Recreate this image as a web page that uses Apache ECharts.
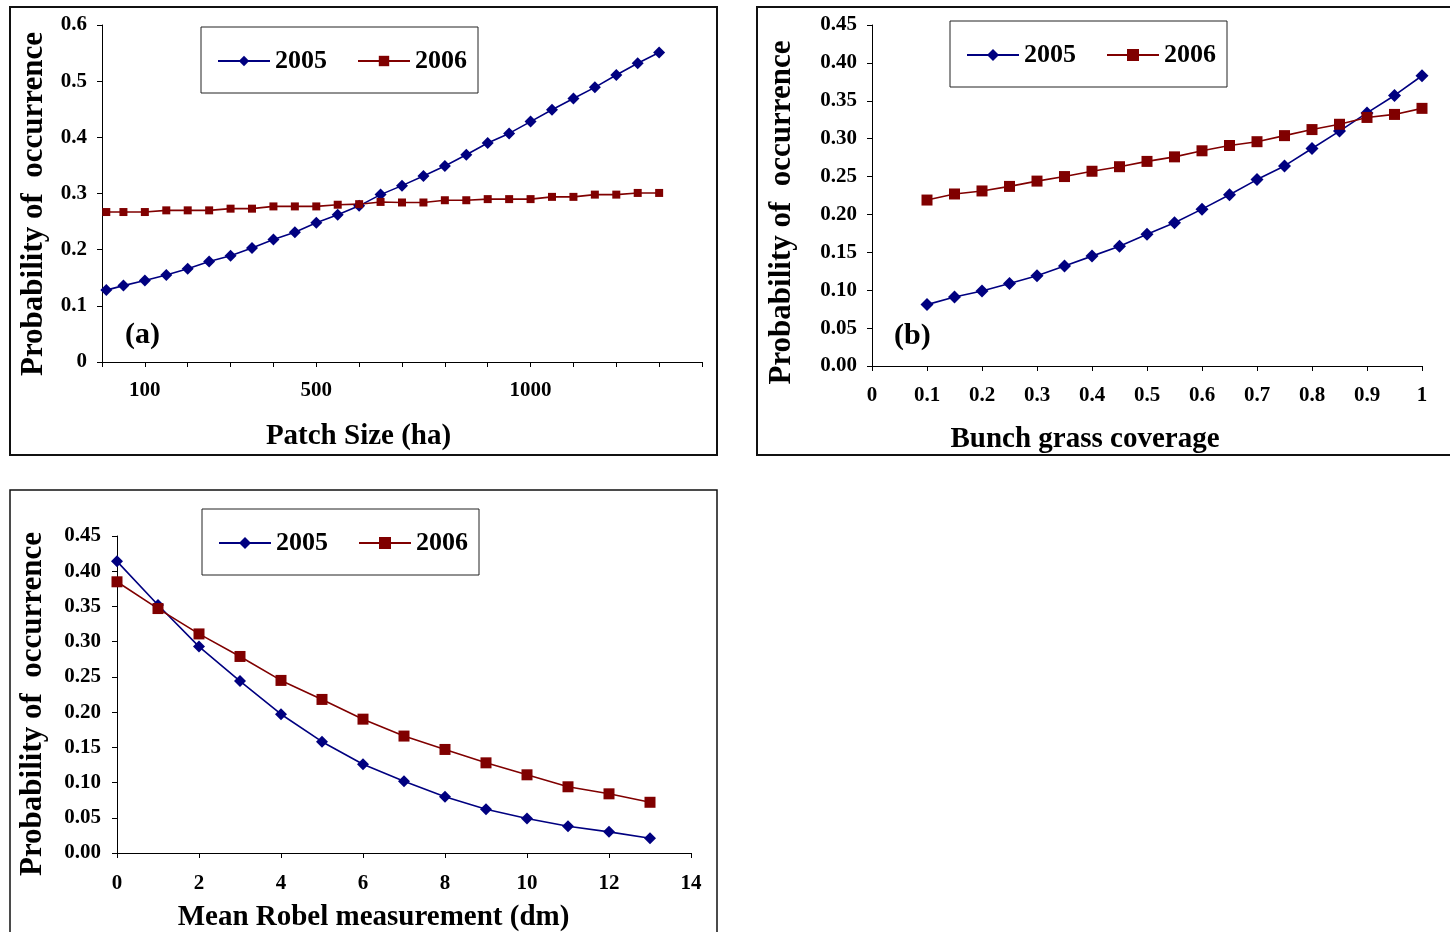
<!DOCTYPE html>
<html>
<head>
<meta charset="utf-8">
<script src="https://cdn.jsdelivr.net/npm/echarts@6/dist/echarts.min.js"></script>
<style>
  html, body { margin: 0; padding: 0; background: #fff; }
  body { width: 1450px; height: 932px; position: relative; overflow: hidden; }
  .panel { position: absolute; }
</style>
</head>
<body>
<div id="pa" class="panel" style="left:0;top:0;width:730px;height:470px;"></div>
<div id="pb" class="panel" style="left:730px;top:0;width:720px;height:470px;"></div>
<div id="pc" class="panel" style="left:0;top:470px;width:730px;height:500px;"></div>
<script>
// ---------- DATA ----------
const seriesNames = ['2005', '2006'];
const yTitle = 'Probability of  occurrence';

// Panel (a): Patch size (ha)
const patchSize = [10, 50, 100, 150, 200, 250, 300, 350, 400, 450, 500, 550, 600, 650, 700, 750, 800, 850, 900, 950, 1000, 1050, 1100, 1150, 1200, 1250, 1300];
const patch2005 = [0.128, 0.136, 0.145, 0.155, 0.166, 0.179, 0.189, 0.203, 0.218, 0.231, 0.248, 0.262, 0.278, 0.298, 0.314, 0.331, 0.349, 0.369, 0.390, 0.407, 0.428, 0.449, 0.469, 0.489, 0.511, 0.532, 0.551];
const patch2006 = [0.267, 0.267, 0.267, 0.270, 0.270, 0.270, 0.273, 0.273, 0.277, 0.277, 0.277, 0.280, 0.281, 0.285, 0.284, 0.284, 0.288, 0.288, 0.290, 0.290, 0.290, 0.294, 0.294, 0.298, 0.298, 0.301, 0.301];
const patchTickLabels = ['100', '500', '1000'];

// Panel (b): Bunch grass coverage
const coverage = [0.1, 0.15, 0.2, 0.25, 0.3, 0.35, 0.4, 0.45, 0.5, 0.55, 0.6, 0.65, 0.7, 0.75, 0.8, 0.85, 0.9, 0.95, 1.0];
const cov2005 = [0.081, 0.091, 0.099, 0.109, 0.119, 0.132, 0.145, 0.158, 0.174, 0.189, 0.207, 0.226, 0.246, 0.264, 0.287, 0.310, 0.334, 0.357, 0.383];
const cov2006 = [0.219, 0.227, 0.231, 0.237, 0.244, 0.250, 0.257, 0.263, 0.270, 0.276, 0.284, 0.291, 0.296, 0.304, 0.312, 0.319, 0.328, 0.332, 0.340];

// Panel (c): Mean Robel measurement (dm)
const robel = [0, 1, 2, 3, 4, 5, 6, 7, 8, 9, 10, 11, 12, 13];
const rob2005 = [0.414, 0.352, 0.293, 0.244, 0.197, 0.158, 0.126, 0.102, 0.080, 0.062, 0.049, 0.038, 0.030, 0.021];
const rob2006 = [0.385, 0.347, 0.311, 0.279, 0.245, 0.218, 0.190, 0.166, 0.147, 0.128, 0.111, 0.094, 0.084, 0.072];

// ---------- STYLE ----------
const FONT = "'Liberation Serif', 'Times New Roman', serif";
const BLUE = '#000080';
const RED = '#800000';

function pairs(xs, ys) { return xs.map((x, i) => [x, ys[i]]); }

function axisBase(pad, size) {
  return {
    axisLine: { show: true, onZero: false, lineStyle: { color: '#000', width: 1 } },
    axisTick: { show: true, inside: false, length: 5, lineStyle: { color: '#000', width: 1 } },
    splitLine: { show: false },
    nameLocation: 'middle',
    nameTextStyle: { fontFamily: FONT, fontWeight: 'bold', fontSize: size, color: '#000', padding: pad }
  };
}

function labelStyle(margin, fmt) {
  return { color: '#000', fontFamily: FONT, fontWeight: 'bold', fontSize: 21, margin: margin, formatter: fmt, showMinLabel: true, showMaxLabel: true };
}

function legendCfg(left, top, itemHeight) {
  return {
    left: left, top: top, orient: 'horizontal',
    data: seriesNames,
    itemWidth: 52, itemHeight: itemHeight, itemGap: 30,
    padding: [21, 11, 19, 16],
    borderColor: '#222', borderWidth: 1, backgroundColor: '#fff',
    textStyle: { fontFamily: FONT, fontWeight: 'bold', fontSize: 26, color: '#000' },
    selectedMode: false
  };
}

function gridCfg(left, top, width, height) {
  return { left: left, top: top, width: width, height: height, containLabel: false, outerBoundsMode: 'none' };
}

function lineSeries(name, data, color, symbol, size) {
  return {
    name: name, type: 'line', data: data,
    symbol: symbol, symbolSize: size, showSymbol: true,
    lineStyle: { color: color, width: 1.6 },
    itemStyle: { color: color },
    emphasis: { disabled: true },
    animation: false, z: 3
  };
}

// ---------- PANEL A ----------
const chartA = echarts.init(document.getElementById('pa'));
chartA.setOption({
  animation: false,
  graphic: [
    { type: 'rect', shape: { x: 10, y: 7, width: 707, height: 448 }, style: { fill: 'none', stroke: '#111', lineWidth: 2 }, z: 0 },
    { type: 'text', left: 125, top: 320, style: { text: '(a)', font: 'bold 30px ' + FONT, fill: '#000' } }
  ],
  legend: legendCfg(201, 27, 13),
  grid: gridCfg(102, 25, 600, 337),
  xAxis: Object.assign(axisBase([0, 87, 0, 0], 29), {
    type: 'value', min: 0, max: 1400, interval: 100,
    name: 'Patch Size (ha)', nameGap: 60,
    axisLabel: labelStyle(18, v => patchTickLabels.indexOf(String(v)) >= 0 ? String(v) : '')
  }),
  yAxis: Object.assign(axisBase([0, 21, 0, 0], 31), {
    type: 'value', min: 0, max: 0.6, interval: 0.1,
    name: yTitle, nameGap: 53,
    axisLabel: labelStyle(15, v => String(+v.toFixed(1)))
  }),
  series: [
    lineSeries('2005', pairs(patchSize, patch2005), BLUE, 'diamond', 12),
    lineSeries('2006', pairs(patchSize, patch2006), RED, 'rect', 8)
  ]
});

// ---------- PANEL B ----------
const chartB = echarts.init(document.getElementById('pb'));
chartB.setOption({
  animation: false,
  graphic: [
    { type: 'rect', shape: { x: 27, y: 7, width: 800, height: 448 }, style: { fill: 'none', stroke: '#111', lineWidth: 2 }, z: 0 },
    { type: 'text', left: 164, top: 321, style: { text: '(b)', font: 'bold 30px ' + FONT, fill: '#000' } }
  ],
  legend: legendCfg(220, 21, 15),
  grid: gridCfg(142, 25, 550, 341),
  xAxis: Object.assign(axisBase([0, 124, 0, 0], 29), {
    type: 'value', min: 0, max: 1, interval: 0.1,
    name: 'Bunch grass coverage', nameGap: 59,
    axisLabel: labelStyle(19, v => String(+v.toFixed(1)))
  }),
  yAxis: Object.assign(axisBase([0, 34, 0, 0], 31), {
    type: 'value', min: 0, max: 0.45, interval: 0.05,
    name: yTitle, nameGap: 75,
    axisLabel: labelStyle(15, v => v.toFixed(2))
  }),
  series: [
    lineSeries('2005', pairs(coverage, cov2005), BLUE, 'diamond', 13),
    lineSeries('2006', pairs(coverage, cov2006), RED, 'rect', 11)
  ]
});

// ---------- PANEL C ----------
const chartC = echarts.init(document.getElementById('pc'));
chartC.setOption({
  animation: false,
  graphic: [
    { type: 'rect', shape: { x: 10, y: 20, width: 707, height: 520 }, style: { fill: 'none', stroke: '#111', lineWidth: 1.5 }, z: 0 }
  ],
  legend: legendCfg(202, 39, 15),
  grid: gridCfg(117, 66, 574, 317),
  xAxis: Object.assign(axisBase([0, 61, 0, 0], 29), {
    type: 'value', min: 0, max: 14, interval: 2,
    name: 'Mean Robel measurement (dm)', nameGap: 50,
    axisLabel: labelStyle(20, v => String(v))
  }),
  yAxis: Object.assign(axisBase([0, 19, 0, 0], 31), {
    type: 'value', min: 0, max: 0.45, interval: 0.05,
    name: yTitle, nameGap: 69,
    axisLabel: labelStyle(16, v => v.toFixed(2))
  }),
  series: [
    lineSeries('2005', pairs(robel, rob2005), BLUE, 'diamond', 12),
    lineSeries('2006', pairs(robel, rob2006), RED, 'rect', 11)
  ]
});
</script>
</body>
</html>
